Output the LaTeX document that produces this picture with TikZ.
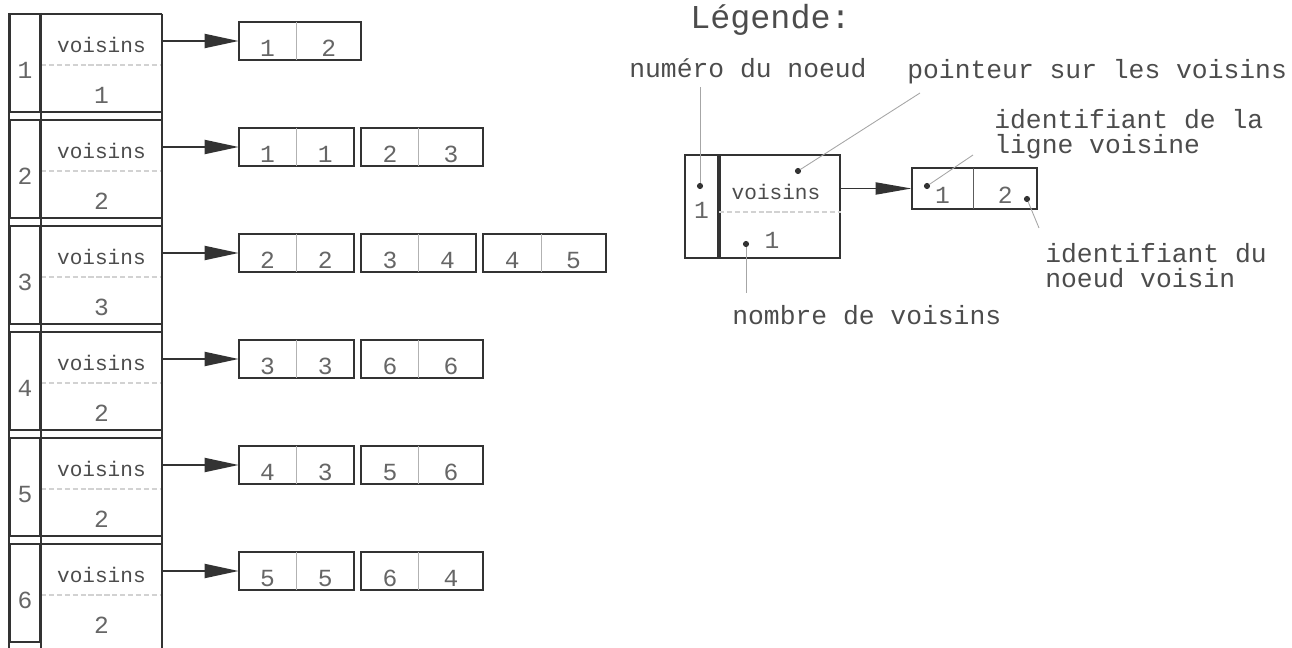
\documentclass[tikz,border=0pt]{standalone}
\usepackage{fontspec}
\setmonofont{Liberation Mono}
\usetikzlibrary{calc,positioning,arrows.meta}
\definecolor{linec}{gray}{0.2}
\definecolor{textc}{gray}{0.3}
\definecolor{digitc}{gray}{0.4}
\tikzset{
  box/.style={draw=linec,line width=1.2pt},
  numcell/.style={box,minimum width=0.6cm,minimum height=1.96cm,inner sep=0pt,text height=0.62cm,font=\fontsize{14}{14}\ttfamily,text=digitc},
  reccell/.style={minimum width=2.4cm,minimum height=1.96cm,inner sep=0pt},
  tag/.style={inner sep=0pt,font=\fontsize{12}{12}\ttfamily,text=textc},
  count/.style={inner sep=0pt,font=\fontsize{14}{14}\ttfamily,text=digitc},
  cell/.style={minimum width=1.14cm,minimum height=0.76cm,inner sep=0pt,text height=0.62cm,font=\fontsize{14}{14}\ttfamily,text=digitc},
  lastcell/.style={cell,minimum width=1.28cm},
  sep/.style={draw=gray!60,line width=0.5pt},
  faint/.style={draw=gray!35,line width=0.6pt,dash pattern=on 3pt off 1.5pt},
  pointer/.style={draw=linec,line width=1.1pt,-{Triangle[length=0.68cm,width=0.28cm]}},
  note/.style={inner sep=0pt,anchor=west,font=\fontsize{15}{14.2}\ttfamily,text=textc,align=left},
  dot/.style={circle,fill=linec,inner sep=0pt,minimum size=3.5pt},
  leader/.style={draw=gray!70,line width=0.5pt}
}
\begin{document}
\begin{tikzpicture}[x=0.02cm,y=-0.02cm]
  \useasboundingbox (0,0) rectangle (1292,648);
  \coordinate (floor) at (0,648);

  % table of nodes
  \foreach \row/\nb/\edge in {1/1/linec,2/2/linec,3/3/linec,4/2/linec,5/2/linec,6/2/none}{
    \node[numcell] (n\row) at (25,{63+106*(\row-1)}) {\row};
    \node[reccell,right=0pt of n\row] (r\row) {};
    \node[tag] (v\row) at ($(r\row.center)+(0,-18)$) {voisins};
    \node[count] (c\row) at ($(r\row.center)+(0,32)$) {\nb};
    \draw[faint] ($(r\row.west)+(0,2)$) -- ($(r\row.east)+(0,2)$);
    \draw[box] (r\row.north west) -- (r\row.north east);
    \draw[line width=1.2pt,draw=\edge] (r\row.south west) -- (r\row.south east);
  }
  \draw[box] (n1.north west) -- (n1.north west |- floor);
  \draw[box] (n1.north east) -- (n1.north east |- floor);
  \draw[box] (r1.north east) -- (r1.north east |- floor);

  % neighbour lists
  \node[cell] (l1a) at (267.5,41) {1};
  \node[lastcell,right=0pt of l1a] (l1b) {2};
  \draw[box] (l1a.north west) rectangle (l1b.south east);
  \draw[sep] (l1a.north east) -- (l1a.south east);
  \draw[pointer] (r1.east |- l1a.west) -- (l1a.west);

  \node[cell] (l2a) at (267.5,147) {1};
  \node[cell,right=0pt of l2a] (l2b) {1};
  \node[cell,right=0.14cm of l2b] (l2c) {2};
  \node[lastcell,right=0pt of l2c] (l2d) {3};
  \draw[box] (l2a.north west) rectangle (l2b.south east);
  \draw[box] (l2c.north west) rectangle (l2d.south east);
  \draw[sep] (l2a.north east) -- (l2a.south east);
  \draw[sep] (l2c.north east) -- (l2c.south east);
  \draw[pointer] (r2.east |- l2a.west) -- (l2a.west);

  \node[cell] (l3a) at (267.5,253) {2};
  \node[cell,right=0pt of l3a] (l3b) {2};
  \node[cell,right=0.14cm of l3b] (l3c) {3};
  \node[cell,right=0pt of l3c] (l3d) {4};
  \node[cell,right=0.14cm of l3d] (l3e) {4};
  \node[lastcell,right=0pt of l3e] (l3f) {5};
  \draw[box] (l3a.north west) rectangle (l3b.south east);
  \draw[box] (l3c.north west) rectangle (l3d.south east);
  \draw[box] (l3e.north west) rectangle (l3f.south east);
  \draw[sep] (l3a.north east) -- (l3a.south east);
  \draw[sep] (l3c.north east) -- (l3c.south east);
  \draw[sep] (l3e.north east) -- (l3e.south east);
  \draw[pointer] (r3.east |- l3a.west) -- (l3a.west);

  \node[cell] (l4a) at (267.5,359) {3};
  \node[cell,right=0pt of l4a] (l4b) {3};
  \node[cell,right=0.14cm of l4b] (l4c) {6};
  \node[lastcell,right=0pt of l4c] (l4d) {6};
  \draw[box] (l4a.north west) rectangle (l4b.south east);
  \draw[box] (l4c.north west) rectangle (l4d.south east);
  \draw[sep] (l4a.north east) -- (l4a.south east);
  \draw[sep] (l4c.north east) -- (l4c.south east);
  \draw[pointer] (r4.east |- l4a.west) -- (l4a.west);

  \node[cell] (l5a) at (267.5,465) {4};
  \node[cell,right=0pt of l5a] (l5b) {3};
  \node[cell,right=0.14cm of l5b] (l5c) {5};
  \node[lastcell,right=0pt of l5c] (l5d) {6};
  \draw[box] (l5a.north west) rectangle (l5b.south east);
  \draw[box] (l5c.north west) rectangle (l5d.south east);
  \draw[sep] (l5a.north east) -- (l5a.south east);
  \draw[sep] (l5c.north east) -- (l5c.south east);
  \draw[pointer] (r5.east |- l5a.west) -- (l5a.west);

  \node[cell] (l6a) at (267.5,571) {5};
  \node[cell,right=0pt of l6a] (l6b) {5};
  \node[cell,right=0.14cm of l6b] (l6c) {6};
  \node[lastcell,right=0pt of l6c] (l6d) {4};
  \draw[box] (l6a.north west) rectangle (l6b.south east);
  \draw[box] (l6c.north west) rectangle (l6d.south east);
  \draw[sep] (l6a.north east) -- (l6a.south east);
  \draw[sep] (l6c.north east) -- (l6c.south east);
  \draw[pointer] (r6.east |- l6a.west) -- (l6a.west);

  % legend
  \node[note,font=\fontsize{19}{19}\ttfamily] (title) at (690,20) {Légende:};
  \node[numcell,minimum width=0.66cm,minimum height=2.06cm,text height=0.5cm] (ln) at (701.5,206.5) {1};
  \node[reccell,box,minimum height=2.06cm,right=0pt of ln] (lr) {};
  \node[tag] (lv) at (776,192) {voisins};
  \node[count] (lc) at (772,240) {1};
  \draw[faint] (lr.west |- 0,212) -- (lr.east |- 0,212);
  \node[cell,minimum width=1.22cm,minimum height=0.82cm] (la) at (942.5,188.5) {1};
  \node[cell,minimum width=1.26cm,minimum height=0.82cm,right=0pt of la] (lb) {2};
  \draw[box] (la.north west) rectangle (lb.south east);
  \draw[sep,draw=linec!80] (la.north east) -- (la.south east);
  \draw[pointer,-{Triangle[length=0.72cm,width=0.24cm]}] (lr.east |- la.west) -- (la.west);

  \node[note] (tnum) at (629,68) {numéro du noeud};
  \node[note] (tptr) at (907,72) {pointeur sur les voisins};
  \node[note] (tline) at (994,134.5) {identifiant de la\\ligne voisine};
  \node[note] (tnode) at (1045,266) {identifiant du\\noeud voisin};
  \node[note] (tcount) at (732,315) {nombre de voisins};

  \node[dot] (dnum) at (700,186) {};
  \node[dot] (dptr) at (798,171) {};
  \node[dot] (dcount) at (746,244) {};
  \node[dot] (dline) at (927,186) {};
  \node[dot] (dnode) at (1027,199) {};
  \coordinate (numend) at (700,87);
  \coordinate (ptrend) at (920,93);
  \coordinate (countend) at (746,293);
  \coordinate (lineend) at (973,155);
  \coordinate (nodeend) at (1039,228);
  \draw[leader] (dnum) -- (numend);
  \draw[leader] (dptr) -- (ptrend);
  \draw[leader] (dcount) -- (countend);
  \draw[leader] (dline) -- (lineend);
  \draw[leader] (dnode) -- (nodeend);
\end{tikzpicture}
\end{document}
